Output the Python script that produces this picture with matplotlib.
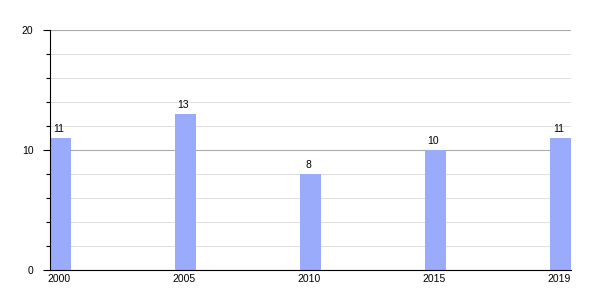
import matplotlib
matplotlib.use("Agg")
import matplotlib.pyplot as plt
from matplotlib.ticker import MultipleLocator

years = ["2000", "2005", "2010", "2015", "2019"]
values = [11, 13, 8, 10, 11]

plt.rcParams['font.family'] = ['Liberation Sans', 'DejaVu Sans']

fig = plt.figure(figsize=(6, 3), dpi=100)
ax = fig.add_axes([50/600, 30/300, 521/600, 240/300])

w = 0.168
x = list(range(len(years)))
bars = ax.bar(x, values, width=w, align='edge', color='#9aabfb', zorder=3)
for xi, v in zip(x, values):
    ax.annotate(str(v), (xi + w/2, v), xytext=(-1.5, 3), textcoords='offset points',
                ha='center', va='bottom', fontsize=7.5, color='black', zorder=4)

ax.set_xlim(0, len(years) - 1 + w)
ax.set_ylim(0, 20)
ax.set_xticks([xi + w/2 - 0.015 for xi in x])
ax.set_xticklabels(years, fontsize=7.5)
ax.tick_params(axis='x', length=0, pad=3)

ax.yaxis.set_major_locator(MultipleLocator(10))
ax.yaxis.set_minor_locator(MultipleLocator(2))
ax.tick_params(axis='y', which='major', length=5, width=0.8, labelsize=7.5, pad=7)
ax.tick_params(axis='y', which='minor', length=3, width=0.8)

ax.grid(axis='y', which='major', color='#aaaaaa', linewidth=0.8, zorder=1)
ax.grid(axis='y', which='minor', color='#e0e0e0', linewidth=0.8, zorder=1)

for s in ['top', 'right']:
    ax.spines[s].set_visible(False)
ax.spines['left'].set_linewidth(0.8)
ax.spines['bottom'].set_linewidth(0.8)
ax.spines['left'].set_zorder(5)
ax.spines['bottom'].set_zorder(5)

fig.savefig("out.png", dpi=100)
